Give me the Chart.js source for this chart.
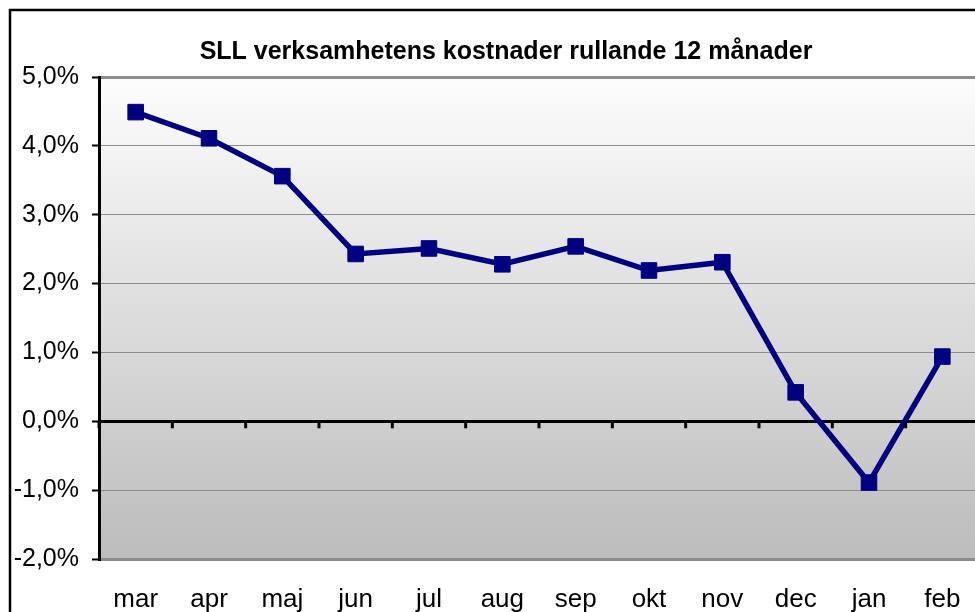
<!DOCTYPE html>
<html>
<head>
<meta charset="utf-8">
<script src="https://cdn.jsdelivr.net/npm/chart.js@4.4.1/dist/chart.umd.min.js"></script>
<style>
  html, body { margin: 0; padding: 0; background: #fff; overflow: hidden; }
  #wrap { position: absolute; left: 0; top: 0; width: 1000px; height: 625px; }
</style>
</head>
<body>
<div id="wrap"><canvas id="kostChart" width="1000" height="625"></canvas></div>
<script>
const TITLE = 'SLL verksamhetens kostnader rullande 12 månader';
const months = ['mar', 'apr', 'maj', 'jun', 'jul', 'aug', 'sep', 'okt', 'nov', 'dec', 'jan', 'feb'];
const change = [4.49, 4.11, 3.56, 2.43, 2.51, 2.28, 2.54, 2.19, 2.31, 0.42, -0.89, 0.94];
const yMin = -2;
const yMax = 5;
const yStep = 1;

const FONT = '"Liberation Sans", Arial, sans-serif';

function pct(v) {
  return v.toFixed(1).replace('.', ',') + '%';
}

// grey gradient behind the plot area + outer frame
const backdrop = {
  id: 'backdrop',
  afterLayout(chart) {
    // the title sits centred over the frame, not over the whole canvas
    if (chart.titleBlock) chart.titleBlock.left = 33;
  },
  beforeDraw(chart) {
    const { ctx, chartArea: a } = chart;
    ctx.save();
    const g = ctx.createLinearGradient(0, a.top, 0, a.bottom);
    g.addColorStop(0, '#fdfdfd');
    g.addColorStop(1, '#bcbcbc');
    ctx.fillStyle = g;
    ctx.fillRect(a.left, a.top, a.right - a.left, a.bottom - a.top);
    ctx.lineWidth = 2.5;
    ctx.strokeStyle = '#000';
    ctx.strokeRect(10, 10, chart.width + 50, chart.height + 50);
    ctx.restore();
  }
};

// small tick marks hanging from the zero line, between categories
const zeroTicks = {
  id: 'zeroTicks',
  afterDatasetsDraw(chart) {
    const { ctx } = chart;
    const x = chart.scales.x;
    const y0 = chart.scales.y.getPixelForValue(0);
    const half = (x.getPixelForValue(1) - x.getPixelForValue(0)) / 2;
    ctx.save();
    ctx.strokeStyle = '#000';
    ctx.lineWidth = 3;
    for (let i = 0; i <= months.length; i++) {
      const px = x.getPixelForValue(i) - half;
      ctx.beginPath();
      ctx.moveTo(px, y0);
      ctx.lineTo(px, y0 + 7);
      ctx.stroke();
    }
    ctx.restore();
  }
};

new Chart(document.getElementById('kostChart'), {
  type: 'line',
  data: {
    labels: months,
    datasets: [{
      data: change,
      borderColor: '#000080',
      backgroundColor: '#000080',
      borderWidth: 5.5,
      pointStyle: 'rect',
      pointRadius: 11,
      pointBorderWidth: 1,
      tension: 0
    }]
  },
  options: {
    responsive: false,
    animation: false,
    layout: { padding: { left: 0, right: 21, top: 0, bottom: 0 } },
    plugins: {
      legend: { display: false },
      tooltip: { enabled: false },
      title: {
        display: true,
        text: TITLE,
        color: '#000',
        font: { family: FONT, size: 25, weight: 'bold', lineHeight: 1.2 },
        padding: { top: 37, bottom: 10 }
      }
    },
    scales: {
      x: {
        offset: true,
        grid: { display: false, drawTicks: false },
        border: { display: false },
        ticks: {
          color: '#000',
          padding: 25,
          maxRotation: 0,
          font: { family: FONT, size: 26 }
        },
        afterFit(s) { s.height = 66; }
      },
      y: {
        min: yMin,
        max: yMax,
        ticks: {
          stepSize: yStep,
          color: '#000',
          padding: 13,
          font: { family: FONT, size: 25 },
          callback: v => pct(v)
        },
        grid: {
          color: c => c.tick && c.tick.value === 0 ? '#000' : '#8c8c8c',
          lineWidth: c => {
            if (!c.tick) return 1;
            const v = c.tick.value;
            return (v === 0 || v === yMin || v === yMax) ? 3 : 1;
          },
          tickColor: '#000',
          tickWidth: 2,
          tickLength: 7
        },
        border: { color: '#000', width: 3 },
        afterFit(s) { s.width = 99; }
      }
    }
  },
  plugins: [backdrop, zeroTicks]
});
</script>
</body>
</html>
